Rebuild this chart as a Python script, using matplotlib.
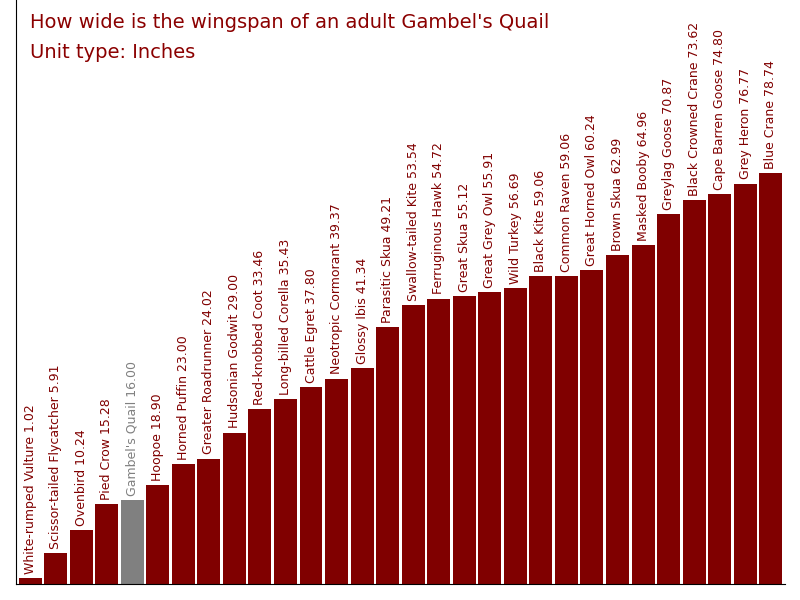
import matplotlib
matplotlib.use("Agg")
import matplotlib.pyplot as plt

BIRDS = [
    "White-rumped Vulture", "Scissor-tailed Flycatcher", "Ovenbird", "Pied Crow",
    "Gambel's Quail", "Hoopoe", "Horned Puffin", "Greater Roadrunner",
    "Hudsonian Godwit", "Red-knobbed Coot", "Long-billed Corella", "Cattle Egret",
    "Neotropic Cormorant", "Glossy Ibis", "Parasitic Skua", "Swallow-tailed Kite",
    "Ferruginous Hawk", "Great Skua", "Great Grey Owl", "Wild Turkey",
    "Black Kite", "Common Raven", "Great Horned Owl", "Brown Skua",
    "Masked Booby", "Greylag Goose", "Black Crowned Crane", "Cape Barren Goose",
    "Grey Heron", "Blue Crane",
]
WINGSPAN = [
    1.02, 5.91, 10.24, 15.28, 16.00, 18.90, 23.00, 24.02, 29.00, 33.46,
    35.43, 37.80, 39.37, 41.34, 49.21, 53.54, 54.72, 55.12, 55.91, 56.69,
    59.06, 59.06, 60.24, 62.99, 64.96, 70.87, 73.62, 74.80, 76.77, 78.74,
]
HIGHLIGHT = "Gambel's Quail"

fig = plt.figure(figsize=(8, 6), dpi=100)
ax = fig.add_axes([0.02, 0.027, 0.961, 0.973])

colors = ["#808080" if b == HIGHLIGHT else "#800000" for b in BIRDS]
x = range(len(BIRDS))
ax.bar(x, WINGSPAN, width=0.9, color=colors)
for i, (b, v, c) in enumerate(zip(BIRDS, WINGSPAN, colors)):
    ax.text(i, v + 0.8, f"{b} {v:.2f}", rotation=90, ha="center", va="bottom",
            fontsize=9, color=c)

ax.set_xlim(-0.55, len(BIRDS) - 0.45)
ax.set_ylim(0, 112)
ax.set_xticks([])
ax.set_yticks([])
ax.spines["top"].set_visible(False)
ax.spines["right"].set_visible(False)

fig.text(0.037, 0.963, "How wide is the wingspan of an adult Gambel's Quail",
         fontsize=14, color="#8b0000", va="center")
fig.text(0.037, 0.912, "Unit type: Inches", fontsize=14, color="#8b0000", va="center")

fig.savefig("out.png", dpi=100)
